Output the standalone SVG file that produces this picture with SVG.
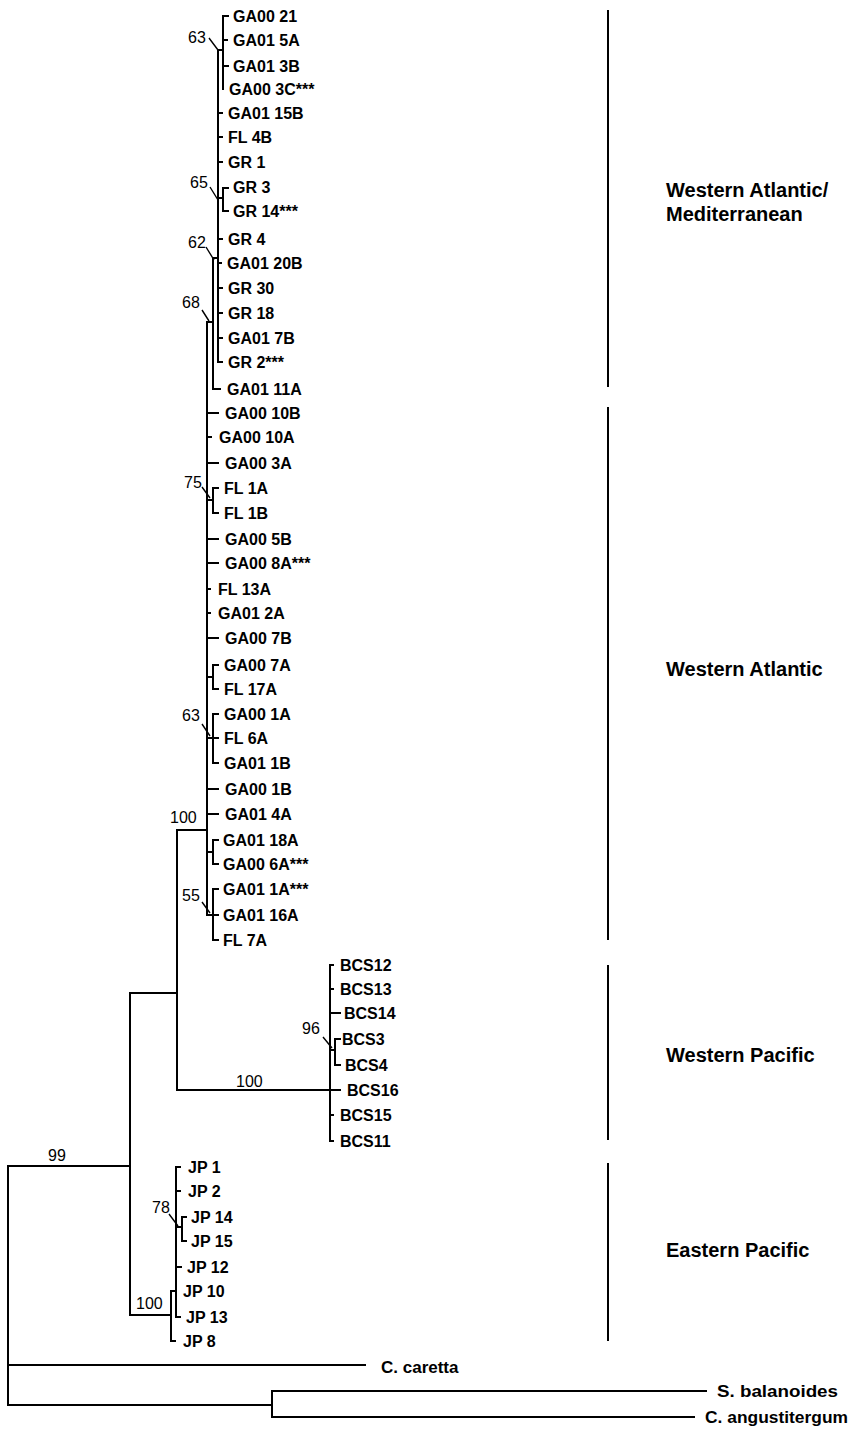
<svg xmlns="http://www.w3.org/2000/svg" width="850" height="1429" viewBox="0 0 850 1429">
<style>
.br{fill:none;stroke:#000;stroke-width:2;stroke-linecap:square}
.ld{fill:none;stroke:#000;stroke-width:1.4}
.bar{fill:none;stroke:#000;stroke-width:2}
.lf{font-family:"Liberation Sans",Arial,sans-serif;font-weight:bold;font-size:16px;fill:#000}
.og{font-family:"Liberation Sans",Arial,sans-serif;font-weight:bold;font-size:17px;fill:#000}
.bs{font-family:"Liberation Sans",Arial,sans-serif;font-size:16px;fill:#000}
.rg{font-family:"Liberation Sans",Arial,sans-serif;font-weight:bold;font-size:20px;fill:#000}
</style>
<rect width="850" height="1429" fill="#fff"/>
<g id="connectors">
<path class="br" d="M228,16 H223 V89 M223,40 H227 M223,66 H228 M218,50 H223"/>
<path class="br" d="M218,50 V362 H222 M218,113 H222 M218,137 H222 M218,162 H222 M218,239 H222 M218,263 H221 M218,288 H222 M218,313 H222 M218,338 H222"/>
<path class="br" d="M228,188 H223 V211 H228 M218,198 H223"/>
<path class="br" d="M213,258 H218 M213,258 V389 H220 M207,322 H213"/>
<path class="br" d="M207,322 V915 M207,413 H218 M207,437 H211 M207,463 H218 M207,539 H218 M207,563 H218 M207,589 H210 M207,613 H210 M207,638 H218 M207,789 H218 M207,814 H218"/>
<path class="br" d="M218,488 H213 V513 H218 M207,500 H213"/>
<path class="br" d="M218,665 H213 V689 H218 M207,677 H213"/>
<path class="br" d="M218,714 H213 V763 H218 M207,738 H218"/>
<path class="br" d="M218,840 H213 V864 H218 M207,852 H213"/>
<path class="br" d="M218,889 H213 V940 H218 M207,915 H218"/>
<path class="br" d="M177,830 H207 M177,830 V1090 H330 M130,993 H177"/>
<path class="br" d="M333,965 H330 V1141 H333 M330,989 H333 M330,1013 H340 M330,1090 H340 M330,1115 H333"/>
<path class="br" d="M340,1039 H335 V1065 H340 M330,1050 H335"/>
<path class="br" d="M130,993 V1315 H171 M8,1166 H130"/>
<path class="br" d="M171,1291 V1341 H175 M171,1291 H176"/>
<path class="br" d="M180,1167 H176 V1317 H180 M176,1191 H180 M176,1267 H181"/>
<path class="br" d="M186,1217 H182 V1241 H186 M176,1227 H182"/>
<path class="br" d="M8,1166 V1405 M8,1365 H365 M8,1405 H272 M272,1391 V1417 M272,1391 H706 M272,1417 H694"/>
<path class="ld" d="M209,38 L218,50 M210,187 L218,200 M206,247 L214,260 M202,310 L209,321 M202,487 L210,498 M202,724 L210,736 M202,902 L210,913 M323,1037 L332,1048 M169,1214 L178,1226"/>
</g>
<g id="bootstrap">
<text class="bs" x="188" y="43">63</text>
<text class="bs" x="190" y="188">65</text>
<text class="bs" x="188" y="248">62</text>
<text class="bs" x="182" y="308">68</text>
<text class="bs" x="184" y="488">75</text>
<text class="bs" x="182" y="721">63</text>
<text class="bs" x="170" y="823">100</text>
<text class="bs" x="182" y="901">55</text>
<text class="bs" x="302" y="1034">96</text>
<text class="bs" x="236" y="1087">100</text>
<text class="bs" x="48" y="1161">99</text>
<text class="bs" x="136" y="1309">100</text>
<text class="bs" x="152" y="1213">78</text>
</g>
<g id="leaves-wa-med">
<g id="n-GA00-21"><text class="lf" x="233" y="22">GA00 21</text></g>
<g id="n-GA01-5A"><text class="lf" x="233" y="46">GA01 5A</text></g>
<g id="n-GA01-3B"><text class="lf" x="233" y="72">GA01 3B</text></g>
<g id="n-GA00-3C"><text class="lf" x="229" y="95">GA00 3C***</text></g>
<g id="n-GA01-15B"><text class="lf" x="228" y="119">GA01 15B</text></g>
<g id="n-FL-4B"><text class="lf" x="228" y="143">FL 4B</text></g>
<g id="n-GR-1"><text class="lf" x="228" y="168">GR 1</text></g>
<g id="n-GR-3"><text class="lf" x="233" y="193">GR 3</text></g>
<g id="n-GR-14"><text class="lf" x="233" y="217">GR 14***</text></g>
<g id="n-GR-4"><text class="lf" x="228" y="245">GR 4</text></g>
<g id="n-GA01-20B"><text class="lf" x="227" y="269">GA01 20B</text></g>
<g id="n-GR-30"><text class="lf" x="228" y="294">GR 30</text></g>
<g id="n-GR-18"><text class="lf" x="228" y="319">GR 18</text></g>
<g id="n-GA01-7B"><text class="lf" x="228" y="344">GA01 7B</text></g>
<g id="n-GR-2"><text class="lf" x="228" y="368">GR 2***</text></g>
<g id="n-GA01-11A"><text class="lf" x="227" y="395">GA01 11A</text></g>
</g>
<g id="leaves-wa">
<g id="n-GA00-10B"><text class="lf" x="225" y="419">GA00 10B</text></g>
<g id="n-GA00-10A"><text class="lf" x="219" y="443">GA00 10A</text></g>
<g id="n-GA00-3A"><text class="lf" x="225" y="469">GA00 3A</text></g>
<g id="n-FL-1A"><text class="lf" x="224" y="494">FL 1A</text></g>
<g id="n-FL-1B"><text class="lf" x="224" y="519">FL 1B</text></g>
<g id="n-GA00-5B"><text class="lf" x="225" y="545">GA00 5B</text></g>
<g id="n-GA00-8A"><text class="lf" x="225" y="569">GA00 8A***</text></g>
<g id="n-FL-13A"><text class="lf" x="218" y="595">FL 13A</text></g>
<g id="n-GA01-2A"><text class="lf" x="218" y="619">GA01 2A</text></g>
<g id="n-GA00-7B"><text class="lf" x="225" y="644">GA00 7B</text></g>
<g id="n-GA00-7A"><text class="lf" x="224" y="671">GA00 7A</text></g>
<g id="n-FL-17A"><text class="lf" x="224" y="695">FL 17A</text></g>
<g id="n-GA00-1A"><text class="lf" x="224" y="720">GA00 1A</text></g>
<g id="n-FL-6A"><text class="lf" x="224" y="744">FL 6A</text></g>
<g id="n-GA01-1B"><text class="lf" x="224" y="769">GA01 1B</text></g>
<g id="n-GA00-1B"><text class="lf" x="225" y="795">GA00 1B</text></g>
<g id="n-GA01-4A"><text class="lf" x="225" y="820">GA01 4A</text></g>
<g id="n-GA01-18A"><text class="lf" x="223" y="846">GA01 18A</text></g>
<g id="n-GA00-6A"><text class="lf" x="223" y="870">GA00 6A***</text></g>
<g id="n-GA01-1A"><text class="lf" x="223" y="895">GA01 1A***</text></g>
<g id="n-GA01-16A"><text class="lf" x="223" y="921">GA01 16A</text></g>
<g id="n-FL-7A"><text class="lf" x="223" y="946">FL 7A</text></g>
</g>
<g id="leaves-wp">
<g id="n-BCS12"><text class="lf" x="340" y="971">BCS12</text></g>
<g id="n-BCS13"><text class="lf" x="340" y="995">BCS13</text></g>
<g id="n-BCS14"><text class="lf" x="344" y="1019">BCS14</text></g>
<g id="n-BCS3"><text class="lf" x="342" y="1045">BCS3</text></g>
<g id="n-BCS4"><text class="lf" x="345" y="1071">BCS4</text></g>
<g id="n-BCS16"><text class="lf" x="347" y="1096">BCS16</text></g>
<g id="n-BCS15"><text class="lf" x="340" y="1121">BCS15</text></g>
<g id="n-BCS11"><text class="lf" x="340" y="1147">BCS11</text></g>
</g>
<g id="leaves-ep">
<g id="n-JP1"><text class="lf" x="188" y="1173">JP 1</text></g>
<g id="n-JP2"><text class="lf" x="188" y="1197">JP 2</text></g>
<g id="n-JP14"><text class="lf" x="191" y="1223">JP 14</text></g>
<g id="n-JP15"><text class="lf" x="191" y="1247">JP 15</text></g>
<g id="n-JP12"><text class="lf" x="187" y="1273">JP 12</text></g>
<g id="n-JP10"><text class="lf" x="183" y="1297">JP 10</text></g>
<g id="n-JP13"><text class="lf" x="186" y="1323">JP 13</text></g>
<g id="n-JP8"><text class="lf" x="183" y="1347">JP 8</text></g>
</g>
<g id="outgroups">
<g id="n-C-caretta"><text class="og" x="381" y="1373">C. caretta</text></g>
<g id="n-S-balanoides"><text class="og" x="717" y="1397" textLength="121" lengthAdjust="spacingAndGlyphs">S. balanoides</text></g>
<g id="n-C-angustitergum"><text class="og" x="705" y="1423" textLength="143" lengthAdjust="spacingAndGlyphs">C. angustitergum</text></g>
</g>
<g id="region-wa-med">
<path class="bar" d="M608,10 V387"/>
<text class="rg" x="666" y="197">Western Atlantic/</text>
<text class="rg" x="666" y="221">Mediterranean</text>
</g>
<g id="region-wa">
<path class="bar" d="M608,407 V940"/>
<text class="rg" x="666" y="676">Western Atlantic</text>
</g>
<g id="region-wp">
<path class="bar" d="M608,965 V1140"/>
<text class="rg" x="666" y="1062">Western Pacific</text>
</g>
<g id="region-ep">
<path class="bar" d="M608,1163 V1341"/>
<text class="rg" x="666" y="1257">Eastern Pacific</text>
</g>
</svg>
